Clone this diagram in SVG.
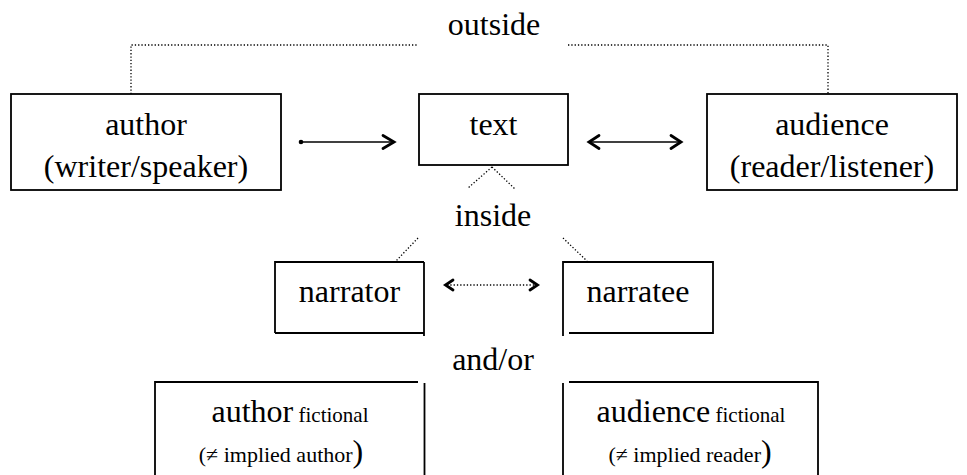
<svg xmlns="http://www.w3.org/2000/svg" width="967" height="475" viewBox="0 0 967 475" font-family="'Liberation Serif', 'DejaVu Serif', serif">
  <style>
    text, tspan { font-family: 'Liberation Serif', 'DejaVu Serif', serif; fill: #000; }
    .big { font-size: 32px; }
    .small { font-size: 21px; }
    .note { font-size: 22px; }
    .box { fill: #fff; stroke: #000; stroke-width: 1.8; }
    .edge { fill: none; stroke: #000; stroke-width: 1.8; }
    .dot { fill: none; stroke: #000; stroke-width: 1.3; stroke-dasharray: 1.3 2; }
    .solid { fill: none; stroke: #000; stroke-width: 1.6; }
    .head { fill: none; stroke: #000; stroke-width: 2.8; stroke-linecap: round; stroke-linejoin: miter; }
  </style>

  <!-- connectors -->
  <g id="connectors">
    <!-- outside brackets -->
    <polyline class="dot" points="131,94 131,45 418,45"/>
    <polyline class="dot" points="568,45 828,45 828,94"/>
    <!-- text to inside -->
    <line class="dot" x1="492" y1="167" x2="468" y2="188"/>
    <line class="dot" x1="492" y1="167" x2="515" y2="189"/>
    <!-- inside to narrator / narratee -->
    <line class="dot" x1="418" y1="238" x2="396" y2="261"/>
    <line class="dot" x1="563" y1="238" x2="587" y2="261"/>

    <!-- author -> text -->
    <circle cx="301" cy="142" r="2.3" fill="#000"/>
    <line class="solid" x1="301" y1="142" x2="393" y2="142"/>
    <polyline class="head" points="383,135.5 394,142 383,148.5"/>

    <!-- text <-> audience -->
    <line class="solid" x1="590" y1="142" x2="680" y2="142"/>
    <polyline class="head" points="599,135.5 589,142 599,148.5"/>
    <polyline class="head" points="671,135.5 681,142 671,148.5"/>

    <!-- narrator <-> narratee -->
    <line class="dot" x1="447" y1="285" x2="536" y2="285"/>
    <polyline class="head" points="453,280 445.5,285 453,290"/>
    <polyline class="head" points="530,280 537.5,285 530,290"/>
  </g>

  <!-- labels between nodes -->
  <text class="big" x="494" y="35" text-anchor="middle">outside</text>
  <text class="big" x="493" y="226" text-anchor="middle">inside</text>
  <text class="big" x="493" y="370" text-anchor="middle">and/or</text>

  <g id="author">
    <rect class="box" x="11" y="94" width="270" height="96"/>
    <text class="big" x="146" y="135" text-anchor="middle">author</text>
    <text class="big" x="146" y="177" text-anchor="middle">(writer/speaker)</text>
  </g>

  <g id="text">
    <rect class="box" x="419" y="94" width="149" height="71"/>
    <text class="big" x="493.5" y="135" text-anchor="middle">text</text>
  </g>

  <g id="audience">
    <rect class="box" x="707" y="94" width="250" height="96"/>
    <text class="big" x="832" y="135" text-anchor="middle">audience</text>
    <text class="big" x="832" y="177" text-anchor="middle">(reader/listener)</text>
  </g>

  <g id="narrator">
    <path class="edge" d="M275,333 L275,262 L424,262 M424,262 L424,336 M275,333 L424,333"/>
    <text class="big" x="349.5" y="302" text-anchor="middle">narrator</text>
  </g>

  <g id="narratee">
    <path class="edge" d="M563,336 L563,262 L713,262 L713,333 L569,333"/>
    <text class="big" x="638" y="302" text-anchor="middle">narratee</text>
  </g>

  <g id="author-fictional">
    <path class="edge" d="M155,480 L155,382 L418,382 M424.5,383 L424.5,480"/>
    <text x="290" y="422" text-anchor="middle"><tspan class="big">author</tspan><tspan class="small"> fictional</tspan></text>
    <text x="281" y="462" text-anchor="middle"><tspan class="note">(≠ implied author</tspan><tspan class="big">)</tspan></text>
  </g>

  <g id="audience-fictional">
    <path class="edge" d="M563,383 L563,480 M569,382 L818,382 L818,480"/>
    <text x="691" y="422" text-anchor="middle"><tspan class="big">audience</tspan><tspan class="small"> fictional</tspan></text>
    <text x="690" y="462" text-anchor="middle"><tspan class="note">(≠ implied reader</tspan><tspan class="big">)</tspan></text>
  </g>
</svg>
